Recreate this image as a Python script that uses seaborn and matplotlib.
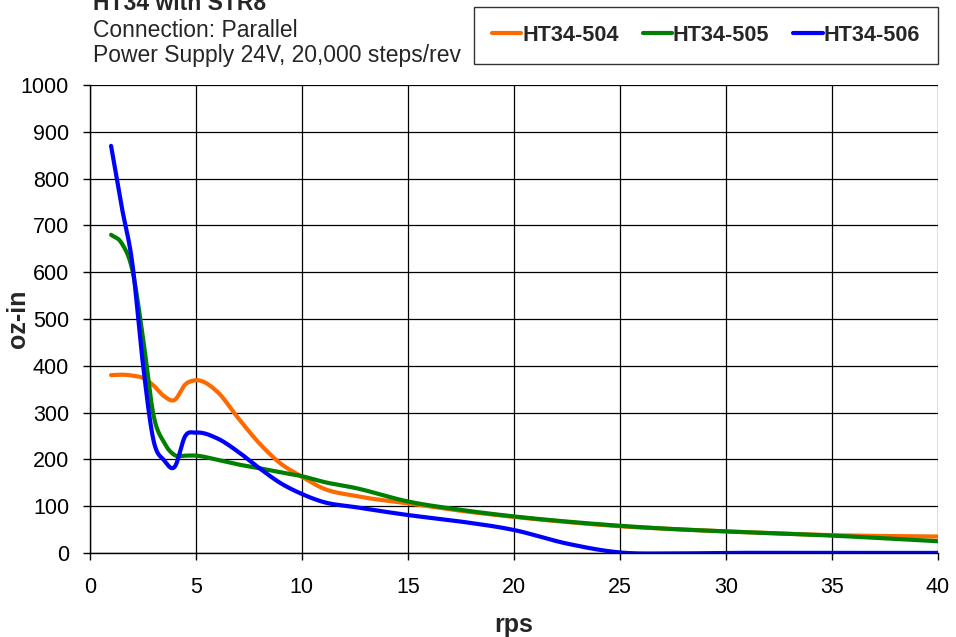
import numpy as np
import pandas as pd
import matplotlib
matplotlib.use("Agg")
import matplotlib.pyplot as plt
from matplotlib.lines import Line2D
import seaborn as sns

rps = [1, 1.5, 2, 2.5, 3, 3.5, 4, 4.5, 5, 6, 7, 8, 9, 10, 11, 12.5, 15, 17.5,
       20, 22.5, 25, 27.5, 30, 35, 40]
ht34_504 = [380, 381, 379, 374, 358, 335, 327, 360, 369, 345, 288, 234, 191, 163,
            138, 122, 106, 90, 77, 66, 57, 51, 46, 38, 35]
ht34_505 = [680, 662, 605, 462, 295, 236, 209, 208, 208, 199, 189, 181, 172, 164,
            152, 139, 110, 92, 78, 67, 58, 51, 46, 37, 25]
ht34_506 = [870, 740, 620, 405, 241, 198, 184, 250, 257, 245, 216, 181, 149, 126,
            109, 98, 81, 67, 49, 20, 1, -1, 0, 0, 0]
series_names = ["HT34-504", "HT34-505", "HT34-506"]
colors = ["#FF6A00", "#008000", "#0000FF"]
x_ticks = [0, 5, 10, 15, 20, 25, 30, 35, 40]
y_ticks = list(range(0, 1001, 100))


def smooth(x, y, n=30):
    """Cubic Hermite smoothing (like a spreadsheet 'smoothed line')."""
    x = np.asarray(x, float)
    y = np.asarray(y, float)
    h = np.diff(x)
    d = np.diff(y) / h
    m = np.empty_like(y)
    m[0], m[-1] = d[0], d[-1]
    m[1:-1] = (d[1:] * h[:-1] + d[:-1] * h[1:]) / (h[:-1] + h[1:])
    xs, ys = [], []
    for i in range(len(x) - 1):
        t = np.linspace(0, 1, n, endpoint=(i == len(x) - 2))
        h00 = 2 * t ** 3 - 3 * t ** 2 + 1
        h10 = t ** 3 - 2 * t ** 2 + t
        h01 = -2 * t ** 3 + 3 * t ** 2
        h11 = t ** 3 - t ** 2
        xs.append(x[i] + t * h[i])
        ys.append(h00 * y[i] + h10 * h[i] * m[i] + h01 * y[i + 1] + h11 * h[i] * m[i + 1])
    return np.concatenate(xs), np.concatenate(ys)


frames = []
for name, vals in zip(series_names, [ht34_504, ht34_505, ht34_506]):
    sx, sy = smooth(rps, vals)
    frames.append(pd.DataFrame({"rps": sx, "oz-in": sy, "series": name}))
df = pd.concat(frames, ignore_index=True)

sns.set_theme(style="white")
plt.rcParams["font.family"] = ["Liberation Sans", "DejaVu Sans"]

fig = plt.figure(figsize=(9.56, 6.37), dpi=100)
ax = fig.add_axes([0.094, 0.132, 0.887, 0.7345])

sns.lineplot(data=df, x="rps", y="oz-in", hue="series", palette=colors,
             sort=False, estimator=None, linewidth=3, ax=ax, legend=False)

ax.set_xlim(0, 40)
ax.set_ylim(0, 1000)
ax.set_xticks(x_ticks)
ax.set_yticks(y_ticks)
ax.tick_params(axis="both", labelsize=15.5, colors="black", length=5, width=1,
               direction="out", bottom=True, left=True)
ax.tick_params(axis="y", pad=10)
ax.tick_params(axis="x", pad=12.5)
ax.grid(True, color="black", linewidth=0.9)
ax.set_axisbelow(True)
for s in ["top", "right"]:
    ax.spines[s].set_visible(False)
for s in ["left", "bottom"]:
    ax.spines[s].set_color("black")
    ax.spines[s].set_linewidth(1)

ax.set_xlabel("rps", fontsize=18, fontweight="bold", va="center")
ax.set_ylabel("oz-in", fontsize=18, fontweight="bold", va="center")
ax.xaxis.set_label_coords(0.5, -0.153)
ax.yaxis.set_label_coords(-0.0849, 0.5)

fig.text(0.0975, 0.9843, "HT34 with STR8", fontsize=16.5, fontweight="bold",
         ha="left", va="baseline")
fig.text(0.0975, 0.9414, "Connection: Parallel", fontsize=16.5, ha="left",
         va="baseline")
fig.text(0.0975, 0.9022, "Power Supply 24V, 20,000 steps/rev", fontsize=16.5,
         ha="left", va="baseline")

handles = [Line2D([0], [0], color=c, lw=3) for c in colors]
leg = fig.legend(handles, series_names, loc="center",
                 bbox_to_anchor=(0.7385, 0.9443), ncol=3, frameon=True,
                 fancybox=False, edgecolor="black", fontsize=15.6,
                 handlelength=1.35, handletextpad=0.05, columnspacing=1.1,
                 borderpad=0.85, borderaxespad=0)
leg.get_frame().set_linewidth(1)
for t in leg.get_texts():
    t.set_fontweight("bold")

fig.savefig("out.png", dpi=100)
